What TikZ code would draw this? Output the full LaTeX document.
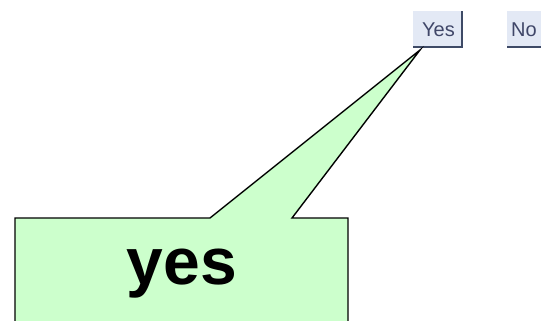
\documentclass[tikz,border=0pt]{standalone}
\usepackage{fontspec}
\setmainfont{Liberation Sans}
\begin{document}
\begin{tikzpicture}[x=1pt,y=-1pt,
  btnshade/.style={draw=btnedge,line width=1.6pt},
  btntext/.style={text=btntxt,font=\fontsize{20}{22}\selectfont,inner sep=0pt},
  callout/.style={fill=callbg,draw=black,line width=1.4pt,line join=miter}]
\definecolor{btnbg}{HTML}{E3E9F5}
\definecolor{btnedge}{HTML}{3E4A66}
\definecolor{btntxt}{HTML}{3F4668}
\definecolor{callbg}{HTML}{CCFFCC}
\useasboundingbox (0,0) rectangle (541,321);
% Yes button
\fill[btnbg] (413,11) rectangle (462,47);
\draw[btnshade] (413,47) -- (462,47) -- (462,11);
\node[btntext] (yes) at (438.5,30) {Yes};
% No button
\fill[btnbg] (507,11) rectangle (545,47);
\draw[btnshade] (507,47) -- (545,47);
\node[btntext,anchor=west] (no) at (511,30) {No};
\coordinate (tip) at (420,50);
% callout
\draw[callout] (15,330) -- (15,218) -- (210,218) -- (tip) -- (292,218) -- (348,218) -- (348,330);
\node[font=\bfseries\fontsize{66}{70}\selectfont,inner sep=0pt] (lbl) at (182,274) {yes};
\end{tikzpicture}
\end{document}
